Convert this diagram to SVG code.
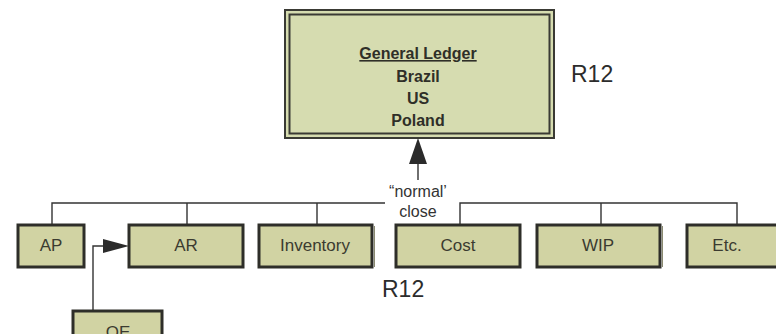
<svg xmlns="http://www.w3.org/2000/svg" width="776" height="334" viewBox="0 0 776 334">
  <style>
    .box { fill: #d1d3a3; stroke: #2e2e29; stroke-width: 3; }
    .lbl { font-family: "Liberation Sans", Arial, sans-serif; font-size: 17px; fill: #3b3b30; text-anchor: middle; }
    .gl { font-family: "Liberation Sans", Arial, sans-serif; font-size: 16px; font-weight: bold; fill: #2f2f28; text-anchor: middle; }
    .rel { font-family: "Liberation Sans", Arial, sans-serif; font-size: 23px; fill: #2c2c2c; }
    .note { font-family: "Liberation Sans", Arial, sans-serif; font-size: 16px; fill: #333; text-anchor: middle; }
    .wire { fill: none; stroke: #333; stroke-width: 1.4; }
  </style>
  <rect width="776" height="334" fill="#ffffff"/>

  <!-- General Ledger -->
  <g id="general-ledger">
    <rect x="285" y="10" width="269" height="128" fill="#d6dcb0" stroke="#3a3a34" stroke-width="2"/>
    <rect x="289.5" y="14.5" width="260" height="119" fill="none" stroke="#3a3a34" stroke-width="2"/>
    <text class="gl" x="418" y="59" text-decoration="underline">General Ledger</text>
    <text class="gl" x="418" y="82">Brazil</text>
    <text class="gl" x="418" y="104">US</text>
    <text class="gl" x="418" y="126">Poland</text>
  </g>

  <text class="rel" x="571" y="82">R12</text>
  <text class="rel" x="382" y="297">R12</text>

  <!-- connectors -->
  <g id="connectors">
    <path class="wire" d="M385,203 H52 V225 M187,203 V225 M317,203 V225"/>
    <path class="wire" d="M460,225 V203 H737 V225 M601,203 V225"/>
    <line x1="418" y1="180" x2="418" y2="163" stroke="#333" stroke-width="1.4"/>
    <path d="M418,138 L427,164 L409,164 Z" fill="#2b2b2b"/>
    <path class="wire" d="M93,311 V246 H104"/>
    <path d="M129,246 L103,239 L103,253 Z" fill="#2b2b2b"/>
  </g>

  <g id="close-note">
    <text class="note" x="418" y="197">“normal’</text>
    <text class="note" x="418" y="217">close</text>
  </g>

  <!-- sub-ledgers -->
  <g id="ap">
    <rect class="box" x="18" y="225" width="66" height="42"/>
    <text class="lbl" x="51" y="251">AP</text>
  </g>
  <g id="ar">
    <rect class="box" x="129" y="225" width="114" height="42"/>
    <text class="lbl" x="186" y="251">AR</text>
  </g>
  <g id="inventory">
    <rect class="box" x="259" y="225" width="113" height="42"/>
    <line x1="374.5" y1="226" x2="374.5" y2="267" stroke="#8a8a70" stroke-width="1"/>
    <text class="lbl" x="315" y="251">Inventory</text>
  </g>
  <g id="cost">
    <rect class="box" x="396" y="225" width="124" height="42"/>
    <text class="lbl" x="458" y="251">Cost</text>
  </g>
  <g id="wip">
    <rect class="box" x="537" y="225" width="123" height="42"/>
    <line x1="662.5" y1="226" x2="662.5" y2="267" stroke="#8a8a70" stroke-width="1"/>
    <text class="lbl" x="598" y="251">WIP</text>
  </g>
  <g id="etc">
    <rect class="box" x="687" y="225" width="100" height="42"/>
    <text class="lbl" x="727" y="251">Etc.</text>
  </g>
  <g id="oe">
    <rect class="box" x="73" y="311" width="89" height="40"/>
    <text class="lbl" x="118" y="338">OE</text>
  </g>
</svg>
